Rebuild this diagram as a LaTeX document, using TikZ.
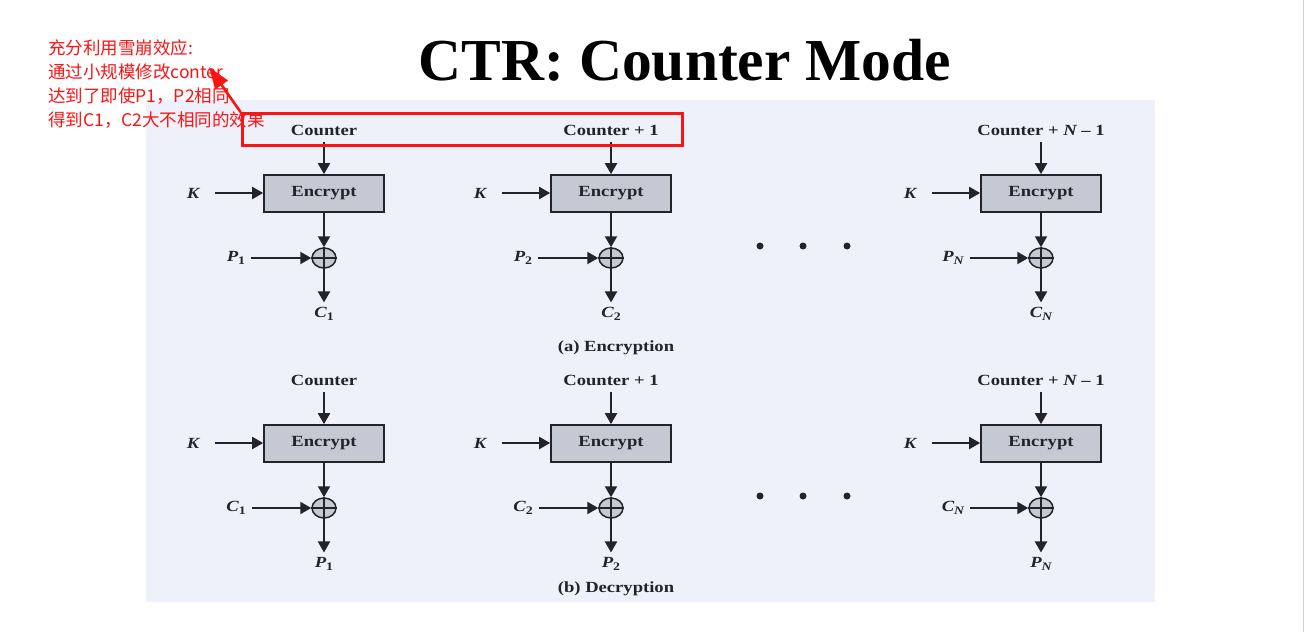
\documentclass[tikz,border=0pt]{standalone}
\usepackage{fontspec}
\setmainfont{Liberation Serif}
\newfontfamily\lab[FakeStretch=1.2]{Liberation Serif}
\newfontfamily\cjk{Noto Sans CJK SC}
\usetikzlibrary{arrows.meta,shapes.geometric}
\definecolor{panel}{RGB}{238,241,250}
\definecolor{boxfill}{RGB}{197,201,211}
\definecolor{ink}{RGB}{35,35,42}
\definecolor{annot}{RGB}{250,20,20}
\tikzset{
  lbl/.style={font=\lab\bfseries\fontsize{15.5}{17}\selectfont, text=ink, inner sep=0pt},
  ebox/.style={draw=ink, line width=1.7pt, fill=boxfill, minimum width=120pt, minimum height=37pt, inner sep=0pt,
    font=\lab\bfseries\fontsize{15.5}{17}\selectfont, text=ink},
  xorc/.style={ellipse, draw=ink, line width=1.5pt, fill=boxfill, minimum width=24pt, minimum height=20pt, inner sep=0pt},
  arr/.style={draw=ink, line width=2.1pt, -{Triangle[length=11pt,width=12pt]}},
  dotn/.style={circle, fill=ink, minimum size=7pt, inner sep=0pt},
  hlbox/.style={draw=annot, line width=3pt, minimum width=440pt, minimum height=32pt, inner sep=0pt},
  redarr/.style={draw=annot, line width=2.6pt, -{Triangle[length=22pt,width=15pt]}}
}
\begin{document}
\begin{tikzpicture}[x=1pt,y=-1pt]
\useasboundingbox (0,0) rectangle (1306,632);
\fill[white] (0,0) rectangle (1306,632);
\fill[panel] (146,100) rectangle (1155,602);
\draw[gray!35, line width=1pt] (1303,0) -- (1303,632);

\node[font=\bfseries\fontsize{59.5}{62}\selectfont, inner sep=0pt] (title) at (685,60) {CTR: Counter Mode};

\foreach \r/\dy/\inl/\outl in {e/0/P/C, d/250/C/P}{
  \foreach \c/\cx/\ctrtext/\sub in {1/324/{Counter}/1, 2/611/{Counter + 1}/2, 3/1041/{Counter + {\itshape N} – 1}/{\itshape N}}{
    \node[lbl] (ctr\r\c) at (\cx,{130+\dy}) {\ctrtext};
    \node[ebox] (enc\r\c) at (\cx,{193.5+\dy}) {\raisebox{-1.5pt}{Encrypt}};
    \node[lbl] (k\r\c) at ({\cx-131},{193+\dy}) {\itshape K};
    \node[xorc] (xor\r\c) at (\cx,{258+\dy}) {};
    \draw[ink, line width=1.1pt] (xor\r\c.west) -- (xor\r\c.east) (xor\r\c.north) -- (xor\r\c.south);
    \node[lbl] (in\r\c) at ({\cx-88},{258+\dy}) {{\itshape \inl}\raisebox{-0.35ex}{\fontsize{11.5}{12}\selectfont\sub}};
    \node[lbl] (out\r\c) at (\cx,{314+\dy}) {{\itshape \outl}\raisebox{-0.35ex}{\fontsize{11.5}{12}\selectfont\sub}};
    \draw[arr, shorten <=7pt] (ctr\r\c) -- (enc\r\c);
    \draw[arr, shorten <=16pt] (k\r\c) -- (k\r\c -| enc\r\c.west);
    \draw[arr] (enc\r\c) -- (xor\r\c);
    \draw[arr, shorten <=6pt] (in\r\c) -- (in\r\c -| xor\r\c.west);
    \draw[arr, shorten >=5pt] (xor\r\c.south) -- (out\r\c.north);
  }
  \node[dotn] (dA\r) at (760,{246+\dy}) {};
  \node[dotn] (dB\r) at (803,{246+\dy}) {};
  \node[dotn] (dC\r) at (847,{246+\dy}) {};
}
\node[lbl] (capa) at (616,348) {(a) Encryption};
\node[lbl] (capb) at (616,589) {(b) Decryption};

\node[hlbox] (hl) at (462,129.5) {};
\node[anchor=north west, align=left, text=annot, inner sep=0pt,
      font=\cjk\fontsize{17.5}{24}\selectfont] (note) at (48,39)
  {充分利用雪崩效应:\\通过小规模修改conter\\达到了即使P1，P2相同\\得到C1，C2大不相同的效果};
\coordinate (tip) at (209,67);
\draw[redarr] (hl.north west) -- (tip);
\end{tikzpicture}
\end{document}
